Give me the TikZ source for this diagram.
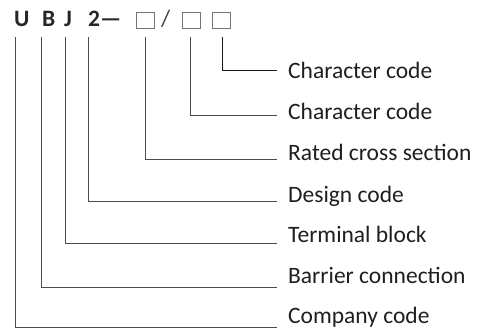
\documentclass[tikz,border=0pt]{standalone}
\usepackage{fontspec}
\setmainfont{Carlito}
\begin{document}
\begin{tikzpicture}[x=1pt,y=-1pt,
  lbl/.style={anchor=base west,inner sep=0pt,font=\fontsize{23.5}{28}\selectfont,text=black!88},
  top/.style={anchor=base west,inner sep=0pt,font=\fontsize{23.5}{28}\selectfont\bfseries,text=black!85},
  sq/.style={draw=black!55,line width=0.9pt,minimum width=18pt,minimum height=16pt,inner sep=0pt},
  lead/.style={draw=black!70,line width=0.9pt}]
\useasboundingbox (0,0) rectangle (480,332);
% top code
\node[top] (U) at (14,27) {U};
\node[top] (B) at (42,27) {B};
\node[top] (J) at (64,27) {J};
\node[top] (T) at (88,27) {2—};
\node[sq] (s1) at (145.5,20) {};
\node[top,font=\fontsize{23.5}{28}\selectfont,text=black!75] (sl) at (161,27) {/};
\node[sq] (s2) at (191,20) {};
\node[sq] (s3) at (221.5,20) {};
% labels
\node[lbl] (l3) at (288,78) {Character code};
\node[lbl] (l2) at (288,119) {Character code};
\node[lbl] (l1) at (288,160) {Rated cross section};
\node[lbl] (lT) at (288,202) {Design code};
\node[lbl] (lJ) at (288,242) {Terminal block};
\node[lbl] (lB) at (288,283) {Barrier connection};
\node[lbl] (lU) at (288,323) {Company code};
% start points
\coordinate (cU) at (15,37);
\coordinate (cB) at (41,37);
\coordinate (cJ) at (65,37);
\coordinate (cT) at (88,37);
\coordinate (c1) at (145,37);
\coordinate (c2) at (190,37);
\coordinate (c3) at (222,37);
% end points
\coordinate (eU) at (277,327);
\coordinate (eB) at (277,287);
\coordinate (eJ) at (277,243);
\coordinate (eT) at (277,201);
\coordinate (e1) at (277,159);
\coordinate (e2) at (277,115);
\coordinate (e3) at (277,70);
% leaders
\draw[lead] (cU) |- (eU);
\draw[lead] (cB) |- (eB);
\draw[lead] (cJ) |- (eJ);
\draw[lead] (cT) |- (eT);
\draw[lead] (c1) |- (e1);
\draw[lead] (c2) |- (e2);
\draw[lead,draw=black!90] (c3) |- (e3);
\end{tikzpicture}
\end{document}
